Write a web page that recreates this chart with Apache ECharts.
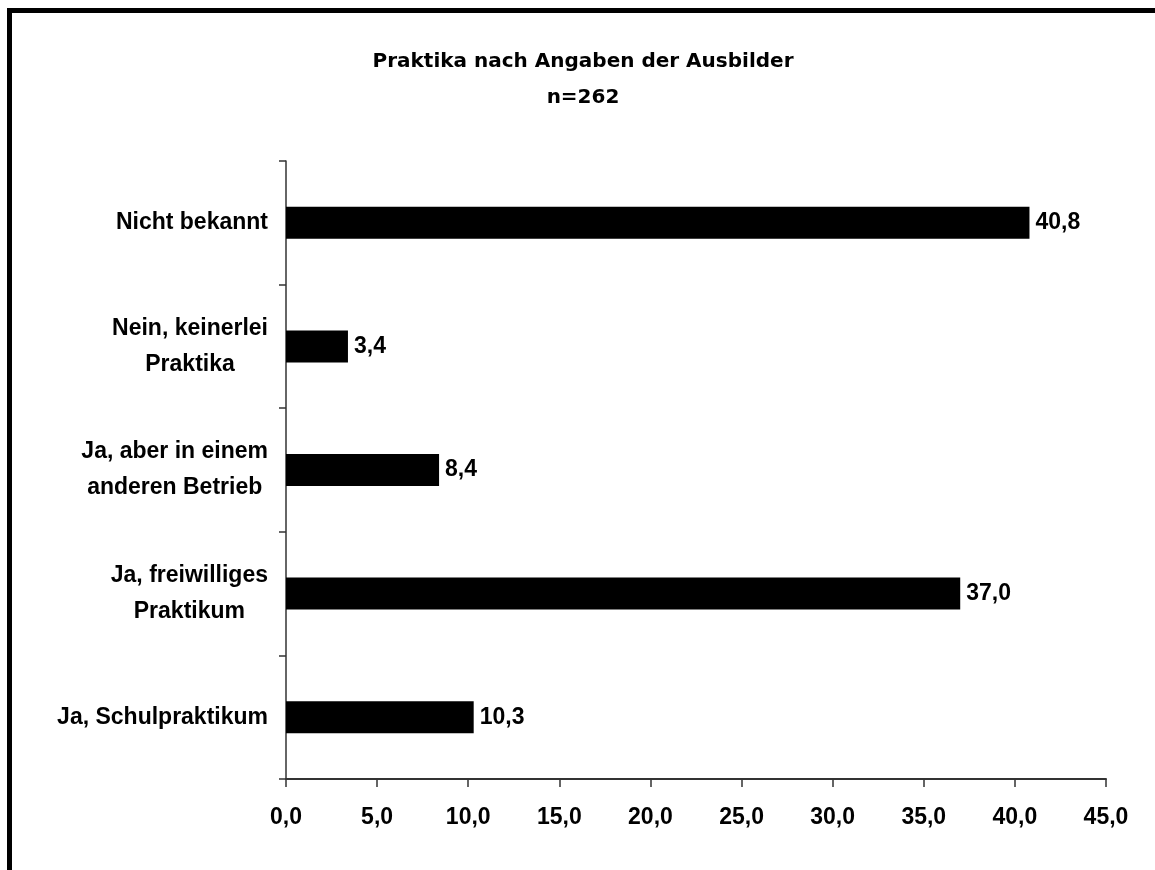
<!DOCTYPE html>
<html>
<head>
<meta charset="utf-8">
<script src="https://cdn.jsdelivr.net/npm/echarts@6/dist/echarts.min.js"></script>
<style>
html,body{margin:0;padding:0;background:#fff;}
#c{width:1155px;height:870px;}
</style>
</head>
<body>
<div id="c"></div>
<script>
const categories = ['Ja, Schulpraktikum', 'Ja, freiwilliges\nPraktikum', 'Ja, aber in einem\nanderen Betrieb', 'Nein, keinerlei\nPraktika', 'Nicht bekannt'];
const values = [10.3, 37.0, 8.4, 3.4, 40.8];
const xTickLabels = ['0,0', '5,0', '10,0', '15,0', '20,0', '25,0', '30,0', '35,0', '40,0', '45,0'];
const titleLine1 = 'Praktika nach Angaben der Ausbilder';
const titleLine2 = 'n=262';

const fmt = v => v.toFixed(1).replace('.', ',');
const chart = echarts.init(document.getElementById('c'), null, {renderer: 'canvas'});
chart.setOption({
  backgroundColor: '#fff',
  animation: false,
  graphic: [
    {type: 'rect', shape: {x: 7, y: 8, width: 1148, height: 5}, style: {fill: '#000'}},
    {type: 'rect', shape: {x: 7, y: 8, width: 5, height: 862}, style: {fill: '#000'}},
    {type: 'text', x: 583, y: 62, style: {text: titleLine1, textAlign: 'center', textVerticalAlign: 'middle', font: 'bold 20px "DejaVu Sans"', fill: '#000'}},
    {type: 'text', x: 583, y: 98, style: {text: titleLine2, textAlign: 'center', textVerticalAlign: 'middle', font: 'bold 20px "DejaVu Sans"', fill: '#000'}}
  ],
  grid: {left: 286, right: 49, top: 161, bottom: 91, containLabel: false},
  xAxis: {
    type: 'value', min: 0, max: 45, interval: 5,
    axisLine: {show: true, lineStyle: {color: '#333', width: 2}},
    axisTick: {show: true, length: 8, lineStyle: {color: '#333', width: 1.5}},
    splitLine: {show: false},
    axisLabel: {
      margin: 27, color: '#000', fontFamily: '"Liberation Sans", Arial', fontWeight: 'bold', fontSize: 23,
      formatter: v => xTickLabels[Math.round(v / 5)]
    }
  },
  yAxis: {
    type: 'category', data: categories,
    axisLine: {show: true, lineStyle: {color: '#333', width: 1.5}},
    axisTick: {show: true, length: 7, inside: false, lineStyle: {color: '#333', width: 1.5}},
    axisLabel: {
      margin: 18, color: '#000',
      formatter: v => v.split('\n').map(l => '{c|' + l + '}').join('\n'),
      rich: {c: {align: 'center', fontFamily: '"Liberation Sans", Arial', fontWeight: 'bold', fontSize: 23, lineHeight: 36, color: '#000'}}
    }
  },
  series: [{
    type: 'bar', data: values, barWidth: 32,
    itemStyle: {color: '#000'},
    label: {
      show: true, position: 'right', distance: 6, color: '#000',
      fontFamily: '"Liberation Sans", Arial', fontWeight: 'bold', fontSize: 23,
      formatter: p => fmt(p.value)
    }
  }]
});
</script>
</body>
</html>
